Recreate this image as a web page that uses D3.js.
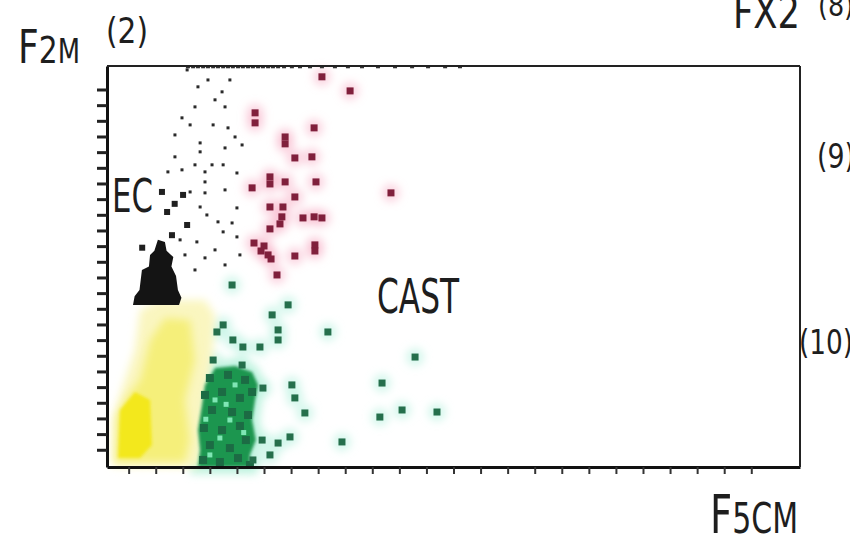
<!DOCTYPE html>
<html>
<head>
<meta charset="utf-8">
<script src="https://cdn.jsdelivr.net/npm/d3@7"></script>
<style>
body { margin: 0; background: #fff; }
text { font-family: "Liberation Sans Narrow", "DejaVu Sans Condensed", "Liberation Sans", sans-serif; fill: #1e1e1e; }
</style>
</head>
<body>
<script>
// channel values (0-256), [x, y]
var redPts = [[79.4,249.1],[89.8,240.1],[54.7,226.1],[54.7,219.7],[76.5,216.5],[65.8,210.7],[65.8,206.3],
  [69.4,197.3],[75.7,198.0],[60.2,185.2],[60.2,180.7],[65.8,182.0],[77.2,182.0],[53.6,178.2],[69.4,172.4],
  [104.9,175.0],[60.2,166.0],[65.0,166.0],[64.6,159.7],[63.9,155.2],[60.2,152.0],[72.4,159.0],[76.5,159.7],
  [79.4,159.0],[54.3,143.0],[56.9,137.9],[60.6,132.8],[69.4,134.7],[76.8,141.8],[76.8,137.9],[62.8,122.6],
  [58.0,141.1],[59.5,135.4]];

var greenPts = [[46.2,116.2],[66.9,103.5],[61.0,97.1],[42.9,90.7],[40.6,86.2],[46.5,81.1],[63.2,87.5],
  [63.2,81.1],[81.6,86.2],[50.2,76.6],[56.5,76.6],[39.2,68.3],[49.9,65.1],[113.8,70.2],[101.6,53.6],
  [68.3,52.4],[57.6,50.4],[69.4,44.1],[73.1,34.5],[109.0,36.4],[121.9,35.1],[100.8,31.9],[86.8,16.0],
  [67.6,19.2],[63.2,15.3],[53.9,4.5],[57.3,17.2],[60.2,7.7]];

// dense green population: outline, darker cells, light cells
var greenBlob = [[39.9,63.2],[47.3,64.5],[53.6,60.7],[55.8,52.4],[54.7,42.8],[53.6,30.0],[55.0,17.2],
  [52.8,7.7],[52.8,0],[33.6,0],[34.4,10.9],[33.6,23.6],[35.1,39.6],[36.2,52.4]];
var greenDense = [[38.0,56.8],[44.7,58.8],[51.0,55.6],[36.2,46.0],[42.5,47.9],[49.1,44.1],[53.6,47.9],
  [38.8,36.4],[46.2,35.1],[52.1,33.2],[35.8,24.9],[42.5,23.6],[49.1,26.2],[38.0,14.0],[45.4,12.1],
  [51.3,17.2],[35.5,4.5],[41.7,3.2],[48.4,5.7],[52.8,1.3]];
var greenLight = [[39.9,42.8],[45.4,30.0],[41.7,18.5],[38.0,7.7],[47.3,52.4],[44.0,40.0],[36.5,30.5],[50.5,22.0]];

var dotPts = [[29.6,253.5],[33.6,242.7],[37.3,247.1],[42.5,239.5],[32.5,229.9],[43.6,229.9],[39.2,218.4],
  [44.7,216.5],[25.1,212.0],[47.3,210.7],[34.4,206.9],[34.4,201.2],[43.6,203.7],[49.9,205.6],[25.1,198.0],
  [32.5,192.9],[38.8,192.9],[42.9,192.9],[36.2,188.4],[22.5,188.4],[48.0,187.7],[36.2,182.0],[43.6,176.9],
  [30.7,175.6],[36.2,175.0],[48.0,165.4],[34.4,166.0],[36.9,160.9],[41.0,156.5],[42.9,150.1],[48.0,146.9],
  [33.2,143.7],[27.0,145.0],[46.2,155.8],[27.7,222.9],[39.9,234.4],[30.7,218.4],[45.4,247.1],[27.7,189.7],
  [39.9,138.6],[49.1,135.4],[36.2,133.5],[28.8,135.4],[43.6,129.0],[32.5,125.8]];
var topEdgeX = [29.9,31.8,33.6,35.5,37.3,39.2,41.0,42.9,44.7,46.5,48.4,50.2,52.1,53.9,55.8,57.6,59.5,61.3,
  63.2,65.4,68.3,71.3,75.0,79.4,84.2,89.0,94.2,100.1,106.4,112.7,118.6,124.9,130.4];

var ecBlob = [[18.8,145.0],[21.4,143.7],[22.0,138.0],[24.5,134.0],[23.8,128.0],[25.5,122.0],[26.2,113.0],
  [27.5,108.0],[26.6,103.5],[9.6,103.5],[10.2,109.0],[12.0,113.0],[12.9,125.8],[15.5,128.0],[15.9,135.4],
  [17.5,138.0]];
var ecPts = [[20.3,175.6],[22.2,162.8],[29.6,154.5],[28.1,173.7],[25.0,168.0],[24.0,148.0],[13.0,140.0]];

var yellowOuter = [[1.8,0.6],[2.2,30.0],[4.8,46.0],[10.3,74.7],[12.2,100.3],[19.6,106.6],[36.2,106.6],
  [39.9,97.1],[38.8,68.3],[36.2,42.8],[34.4,0]];
var yellowInner = [[3.3,3.2],[3.7,33.2],[7.8,46.0],[12.2,55.6],[15.9,81.1],[21.4,95.2],[30.7,93.9],
  [32.5,68.3],[28.8,42.8],[30.7,17.2],[28.8,3.2]];
var yellowCore = [[4.1,5.7],[4.8,36.4],[10.3,47.9],[15.9,42.8],[16.6,14.0],[12.2,5.7]];

var xTicks = [8,18,28,38,48,58,68,78,88,98,108,118,128,138,148,158,168,178,188,198,208,218,228,238];
var yTicks = [11,21,31,41,51,61,71,81,91,101,111,121,131,141,151,161,171,181,191,201,211,221,231,241];

var svg = d3.select("body").append("svg")
  .attr("width", 850)
  .attr("height", 540);

var defs = svg.append("defs");
defs.append("filter").attr("id", "blur").attr("x", "-50%").attr("y", "-50%").attr("width", "200%").attr("height", "200%")
  .append("feGaussianBlur").attr("stdDeviation", 4);
defs.append("filter").attr("id", "soft").attr("x", "-20%").attr("y", "-20%").attr("width", "140%").attr("height", "140%")
  .append("feGaussianBlur").attr("stdDeviation", 1.5);

var x = d3.scaleLinear().domain([0, 256]).range([107, 800]);
var y = d3.scaleLinear().domain([0, 256]).range([467, 66]);
var area = d3.line().x(function(d) { return x(d[0]); }).y(function(d) { return y(d[1]); }).curve(d3.curveLinearClosed);

function squares(data, size, color) {
  svg.append("g").selectAll("rect").data(data).enter().append("rect")
    .attr("x", function(d) { return x(d[0]) - size / 2; })
    .attr("y", function(d) { return y(d[1]) - size / 2; })
    .attr("width", size)
    .attr("height", size)
    .style("fill", color);
}

// halos
svg.append("g").attr("filter", "url(#blur)").selectAll("circle").data(redPts).enter().append("circle")
  .attr("cx", function(d) { return x(d[0]); })
  .attr("cy", function(d) { return y(d[1]); })
  .attr("r", 9)
  .style("fill", "#f7b3c8")
  .style("opacity", 0.55);
svg.append("g").attr("filter", "url(#blur)").selectAll("circle").data(greenPts).enter().append("circle")
  .attr("cx", function(d) { return x(d[0]); })
  .attr("cy", function(d) { return y(d[1]); })
  .attr("r", 9)
  .style("fill", "#b8f2e0")
  .style("opacity", 0.6);
svg.append("path").datum(greenBlob).attr("d", area).attr("filter", "url(#blur)")
  .style("fill", "#bff3df").attr("stroke", "#bff3df").attr("stroke-width", 14);

// yellow population
svg.append("path").datum(yellowOuter).attr("d", area).attr("filter", "url(#blur)")
  .style("fill", "#faf6c0");
svg.append("path").datum(yellowInner).attr("d", area).attr("filter", "url(#blur)")
  .style("fill", "#f5ef7a");
svg.append("path").datum(yellowCore).attr("d", area).attr("filter", "url(#soft)")
  .style("fill", "#f3e81a");

// green population
svg.append("path").datum(greenBlob).attr("d", area).attr("filter", "url(#soft)")
  .style("fill", "#1f9650");
squares(greenDense, 8, "#1c6b44");
squares(greenLight, 5, "#7fe6b4");
squares(greenPts, 7, "#256f4c");

// red population
squares(redPts, 7, "#80203c");

// gated dots
squares(dotPts, 3, "#2a2a2a");
svg.append("g").selectAll("rect").data(topEdgeX).enter().append("rect")
  .attr("x", function(d) { return x(d) - 2; })
  .attr("y", y(255.5) - 1.5)
  .attr("width", 4)
  .attr("height", 3)
  .style("fill", "#333");

// EC population
svg.append("path").datum(ecBlob).attr("d", area).style("fill", "#141414");
squares(ecPts, 6, "#202020");

// frame
var yAxis = svg.append("g").attr("transform", "translate(107,0)")
  .call(d3.axisLeft(y).tickValues(yTicks).tickSize(10).tickSizeOuter(0).tickFormat(""));
yAxis.selectAll("line").attr("stroke", "#222").attr("stroke-width", 3);
yAxis.select(".domain").attr("stroke", "#111").attr("stroke-width", 3);

var xAxis = svg.append("g").attr("transform", "translate(0,467)")
  .call(d3.axisBottom(x).tickValues(xTicks).tickSize(7).tickSizeOuter(0).tickFormat(""));
xAxis.selectAll("line").attr("stroke", "#333").attr("stroke-width", 2);
xAxis.select(".domain").attr("stroke", "#111").attr("stroke-width", 3);

svg.append("line").attr("x1", x(0)).attr("x2", x(256)).attr("y1", y(256)).attr("y2", y(256))
  .attr("stroke", "#222").attr("stroke-width", 2);
svg.append("line").attr("x1", x(256)).attr("x2", x(256)).attr("y1", y(256)).attr("y2", y(0))
  .attr("stroke", "#222").attr("stroke-width", 2);

// labels
var f2 = svg.append("text").attr("x", 18).attr("y", 63).attr("textLength", 62).attr("lengthAdjust", "spacingAndGlyphs");
f2.append("tspan").style("font-size", "46px").text("F");
f2.append("tspan").style("font-size", "38px").text("2");
f2.append("tspan").style("font-size", "33px").text("M");

svg.append("text").attr("x", 106).attr("y", 43).style("font-size", "35px")
  .attr("textLength", 42).attr("lengthAdjust", "spacingAndGlyphs").text("(2)");

svg.append("text").attr("x", 733).attr("y", 28).style("font-size", "44px")
  .attr("textLength", 67).attr("lengthAdjust", "spacingAndGlyphs").text("FX2");
svg.append("text").attr("x", 818).attr("y", 16).style("font-size", "30px")
  .attr("textLength", 36).attr("lengthAdjust", "spacingAndGlyphs").text("(8)");
svg.append("text").attr("x", 817).attr("y", 168).style("font-size", "34px")
  .attr("textLength", 38).attr("lengthAdjust", "spacingAndGlyphs").text("(9)");
svg.append("text").attr("x", 799).attr("y", 354).style("font-size", "34px")
  .attr("textLength", 54).attr("lengthAdjust", "spacingAndGlyphs").text("(10)");

svg.append("text").attr("x", 112).attr("y", 212).style("font-size", "46px")
  .attr("textLength", 41).attr("lengthAdjust", "spacingAndGlyphs").text("EC");
svg.append("text").attr("x", 377).attr("y", 313).style("font-size", "48px")
  .attr("textLength", 82).attr("lengthAdjust", "spacingAndGlyphs").text("CAST");

var fs = svg.append("text").attr("x", 710).attr("y", 533).attr("textLength", 88).attr("lengthAdjust", "spacingAndGlyphs");
fs.append("tspan").style("font-size", "54px").text("F");
fs.append("tspan").style("font-size", "42px").text("5CM");
</script>
</body>
</html>
